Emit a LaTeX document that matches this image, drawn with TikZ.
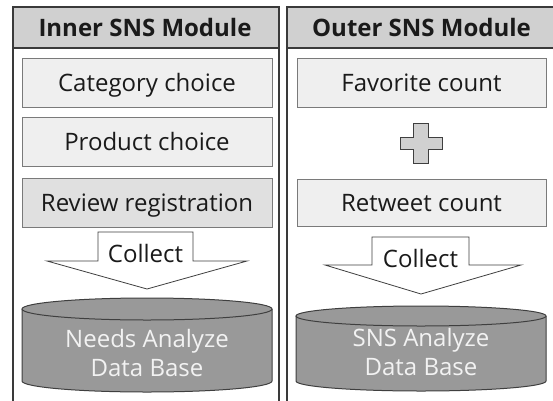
\documentclass[tikz,border=0pt]{standalone}
\usepackage{fontspec}
\usetikzlibrary{calc}
\setmainfont{Open Sans}
\definecolor{framec}{HTML}{3A3A3A}
\definecolor{headfill}{HTML}{D0D0D0}
\definecolor{boxfill}{HTML}{EFEFEF}
\definecolor{boxfilldark}{HTML}{E0E0E0}
\definecolor{boxline}{HTML}{7A7A7A}
\definecolor{dbfill}{HTML}{999999}
\definecolor{dbline}{HTML}{3F3F3F}
\definecolor{dbtext}{HTML}{F2F2F2}
\definecolor{txt}{HTML}{1A1A1A}
\tikzset{
  panel/.style={draw=framec, line width=1.1pt, fill=white},
  header/.style={draw=framec, line width=1.1pt, fill=headfill},
  bodyfont/.style={font=\fontsize{24}{28}\selectfont},
  headtext/.style={font=\fontsize{24}{28}\selectfont\bfseries, text=txt, anchor=base, inner sep=0pt},
  itembox/.style={bodyfont, draw=boxline, line width=1pt, fill=boxfill, minimum width=250pt,
    minimum height=49pt, inner sep=0pt, text height=17pt, text depth=0pt, text=txt},
  collectarrow/.style={draw=dbline, line width=0.8pt, fill=white},
  collecttext/.style={bodyfont, text=txt, inner sep=0pt, anchor=base},
  dbbody/.style={draw=dbline, line width=1pt, fill=dbfill},
  dbtextstyle/.style={bodyfont, text=dbtext, inner sep=0pt, anchor=base},
  plusshape/.style={draw=dbline, line width=1pt, fill=headfill, line join=miter}
}
\begin{document}
\begin{tikzpicture}[x=1pt,y=1pt]
\useasboundingbox (0,0) rectangle (553,400);

% two module panels with their title bands
\draw[panel] (13,-10) rectangle (279,393);
\draw[header] (13,352) rectangle (279,393);
\node[headtext] (innerhead) at (145,363) {Inner SNS Module};

\draw[panel] (287,-10) rectangle (560,393);
\draw[header] (287,352) rectangle (560,393);
\node[headtext] (outerhead) at (421.5,363) {Outer SNS Module};

% inner module steps
\node[itembox] (category) at (147,317.5) {Category choice};
\node[itembox] (product) at (147,258) {Product choice};
\node[itembox, fill=boxfilldark] (review) at (147,197.5) {Review registration};

% outer module counters
\node[itembox, minimum width=249pt] (favorite) at (421.5,317.5) {Favorite count};
\node[itembox, minimum width=249pt, minimum height=47pt] (retweet) at (421.5,197) {Retweet count};

% plus sign between the counters
\coordinate (plus) at (421,257);
\draw[plusshape] ($(plus)+(-7.5,20)$) -- ($(plus)+(7.5,20)$) -- ($(plus)+(7.5,6)$)
  -- ($(plus)+(21,6)$) -- ($(plus)+(21,-6)$) -- ($(plus)+(7.5,-6)$)
  -- ($(plus)+(7.5,-20)$) -- ($(plus)+(-7.5,-20)$) -- ($(plus)+(-7.5,-6)$)
  -- ($(plus)+(-21,-6)$) -- ($(plus)+(-21,6)$) -- ($(plus)+(-7.5,6)$) -- cycle;

% "Collect" block arrows
\draw[collectarrow] (98,168) -- (193,168) -- (193,139) -- (247,139) -- (147,111)
  -- (47,139) -- (98,139) -- cycle;
\node[collecttext] (collectL) at (145.5,138) {Collect};

\draw[collectarrow] (372,163) -- (469,163) -- (469,135) -- (521,135) -- (421,106)
  -- (325,135) -- (372,135) -- cycle;
\node[collecttext] (collectR) at (420.5,133) {Collect};

% database cylinders
\draw[dbbody] (22,91) -- (22,19) arc[start angle=180, end angle=360, x radius=125, y radius=11]
  -- (272,91);
\draw[dbbody] (147,91) ellipse[x radius=125, y radius=11];
\node[dbtextstyle] (needsdb) at (147,53) {Needs Analyze};
\node[dbtextstyle] (needsdb2) at (147,24) {Data Base};

\draw[dbbody] (296,84) -- (296,19) arc[start angle=180, end angle=360, x radius=125, y radius=10]
  -- (546,84);
\draw[dbbody] (421,84) ellipse[x radius=125, y radius=10];
\node[dbtextstyle] (snsdb) at (421,54) {SNS Analyze};
\node[dbtextstyle] (snsdb2) at (421,25) {Data Base};
\end{tikzpicture}
\end{document}
